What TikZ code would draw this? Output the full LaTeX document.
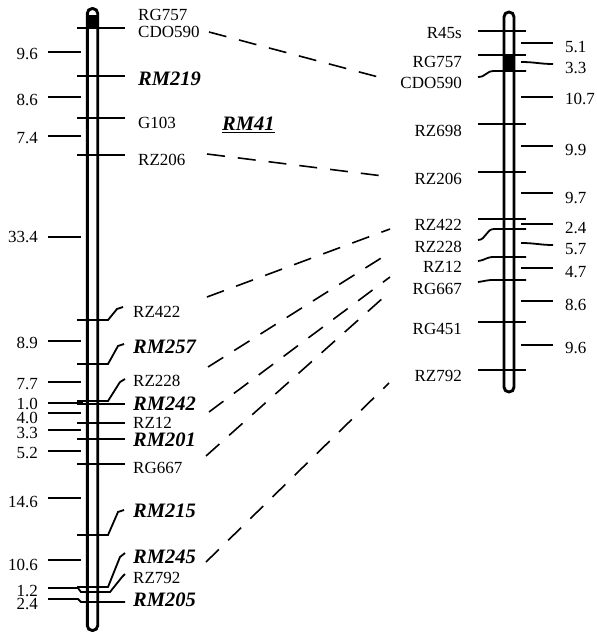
\documentclass[tikz,border=0pt]{standalone}
\usepackage{fontspec}
\setmainfont{Liberation Serif}
\begin{document}
\begin{tikzpicture}[x=1pt,y=-1pt,
  chrom/.style={line width=2.9pt, rounded corners=4.9pt},
  tk/.style={line width=1.8pt},
  lbl/.style={inner sep=0pt, font=\fontsize{17}{19}\selectfont},
  ssr/.style={inner sep=0pt, font=\fontsize{20.5}{22}\selectfont\bfseries\itshape},
  link/.style={line width=1.6pt, dash pattern=on 18pt off 13pt},
]
\useasboundingbox (0,0) rectangle (596,636);

% ---------------- left chromosome ----------------
\fill (87.3,15) rectangle (97.7,28);
\draw[chrom] (87.3,8.5) rectangle (97.7,630.5);

% marker ticks (straight)
\foreach \y in {28,76,118,155,404,423,439,464}
  \draw[tk] (77,\y) -- (125,\y);
% marker ticks with a bent lead to the label
\draw[tk] (77,320) -- (108,320) -- (117,309) -- (123,307);
\draw[tk] (77,364) -- (108,364) -- (118,346) -- (124,344);
\draw[tk] (77,401) -- (108,401) -- (120,382) -- (125,379);
\draw[tk] (77,535) -- (108,535) -- (118,512) -- (124,510);
\draw[tk] (77,587) -- (108,587) -- (120,557) -- (125,553);
\draw[tk] (48,588) -- (78,588) -- (81,592) -- (110,592) -- (122,577) -- (125,574);
\draw[tk] (48,599) -- (78,599) -- (81,602) -- (125,602);

% interval ticks
\foreach \y in {52,97,136,237,341,382,413,430,451,498,560}
  \draw[tk] (48,\y) -- (81,\y);
\draw[tk] (48,403) -- (83,403);

% marker names
\node[lbl,anchor=west] (lRG757)  at (138,15)  {RG757};
\node[lbl,anchor=west] (lCDO590) at (138,32)  {CDO590};
\node[ssr,anchor=west] (lRM219)  at (138,79)  {RM219};
\node[lbl,anchor=west] (lG103)   at (138,123) {G103};
\node[ssr,anchor=base west] (title) at (222,131) {\underline{RM41}};
\node[lbl,anchor=west] (lRZ206)  at (138,160) {RZ206};
\node[lbl,anchor=west] (lRZ422)  at (133,312) {RZ422};
\node[ssr,anchor=west] (lRM257)  at (133,347) {RM257};
\node[lbl,anchor=west] (lRZ228)  at (133,381) {RZ228};
\node[ssr,anchor=west] (lRM242)  at (133,404) {RM242};
\node[lbl,anchor=west] (lRZ12)   at (133,423) {RZ12};
\node[ssr,anchor=west] (lRM201)  at (133,440) {RM201};
\node[lbl,anchor=west] (lRG667)  at (133,468) {RG667};
\node[ssr,anchor=west] (lRM215)  at (133,511) {RM215};
\node[ssr,anchor=west] (lRM245)  at (133,557) {RM245};
\node[lbl,anchor=west] (lRZ792)  at (133,578) {RZ792};
\node[ssr,anchor=west] (lRM205)  at (133,600) {RM205};

% interval lengths
\node[lbl,anchor=east] (ld1)  at (38,54)  {9.6};
\node[lbl,anchor=east] (ld2)  at (38,100) {8.6};
\node[lbl,anchor=east] (ld3)  at (38,138) {7.4};
\node[lbl,anchor=east] (ld4)  at (38,237) {33.4};
\node[lbl,anchor=east] (ld5)  at (38,343) {8.9};
\node[lbl,anchor=east] (ld6)  at (38,384) {7.7};
\node[lbl,anchor=east] (ld7)  at (38,403.5) {1.0};
\node[lbl,anchor=east] (ld8)  at (38,418) {4.0};
\node[lbl,anchor=east] (ld9)  at (38,432.5) {3.3};
\node[lbl,anchor=east] (ld10) at (38,453) {5.2};
\node[lbl,anchor=east] (ld11) at (38,502) {14.6};
\node[lbl,anchor=east] (ld12) at (38,565) {10.6};
\node[lbl,anchor=east] (ld13) at (38,590.5) {1.2};
\node[lbl,anchor=east] (ld14) at (38,603.5) {2.4};

% ---------------- right chromosome ----------------
\fill (504,55) rectangle (514,71);
\draw[chrom] (504,12) rectangle (514,392);

\foreach \y in {31,55,124,172,219,322,370}
  \draw[tk] (478,\y) -- (526,\y);
\draw[tk] (478,77) .. controls (486,77) and (486,71) .. (494,71) -- (526,71);
\draw[tk] (478,240) .. controls (486,240) and (486,229) .. (494,229) -- (526,229);
\draw[tk] (478,261) .. controls (486,260) and (486,257) .. (494,257) -- (526,257);
\draw[tk] (478,282) .. controls (486,281) and (486,280) .. (494,280) -- (526,280);

\foreach \y in {43,97,146,193,224,268,301,345}
  \draw[tk] (521,\y) -- (553,\y);
\draw[tk] (521,62) .. controls (535,62) and (540,64) .. (553,64);
\draw[tk] (521,243) .. controls (535,243) and (540,245) .. (553,245);

\node[lbl,anchor=east] (rR45s)   at (462,33)  {R45s};
\node[lbl,anchor=east] (rRG757)  at (462,62)  {RG757};
\node[lbl,anchor=east] (rCDO590) at (462,83)  {CDO590};
\node[lbl,anchor=east] (rRZ698)  at (462,131) {RZ698};
\node[lbl,anchor=east] (rRZ206)  at (462,179) {RZ206};
\node[lbl,anchor=east] (rRZ422)  at (462,225) {RZ422};
\node[lbl,anchor=east] (rRZ228)  at (462,247) {RZ228};
\node[lbl,anchor=east] (rRZ12)   at (462,267) {RZ12};
\node[lbl,anchor=east] (rRG667)  at (462,289) {RG667};
\node[lbl,anchor=east] (rRG451)  at (462,329) {RG451};
\node[lbl,anchor=east] (rRZ792)  at (462,376) {RZ792};

\node[lbl,anchor=west] (rd1)  at (565,47)  {5.1};
\node[lbl,anchor=west] (rd2)  at (565,68)  {3.3};
\node[lbl,anchor=west] (rd3)  at (565,99)  {10.7};
\node[lbl,anchor=west] (rd4)  at (565,150) {9.9};
\node[lbl,anchor=west] (rd5)  at (565,198) {9.7};
\node[lbl,anchor=west] (rd6)  at (565,228) {2.4};
\node[lbl,anchor=west] (rd7)  at (565,249) {5.7};
\node[lbl,anchor=west] (rd8)  at (565,272) {4.7};
\node[lbl,anchor=west] (rd9)  at (565,305) {8.6};
\node[lbl,anchor=west] (rd10) at (565,348) {9.6};

% ---------------- links between shared markers ----------------
\coordinate (a1) at (209,32);  \coordinate (b1) at (382,78);
\coordinate (a2) at (207,154); \coordinate (b2) at (383,176);
\coordinate (a3) at (207,297); \coordinate (b3) at (390,229);
\coordinate (a4) at (208,367); \coordinate (b4) at (386,255);
\coordinate (a5) at (209,412); \coordinate (b5) at (390,277);
\coordinate (a6) at (206,456); \coordinate (b6) at (384,297);
\coordinate (a7) at (206,562); \coordinate (b7) at (389,383);
\foreach \i in {1,...,7}
  \draw[link] (a\i) -- (b\i);
\end{tikzpicture}
\end{document}
